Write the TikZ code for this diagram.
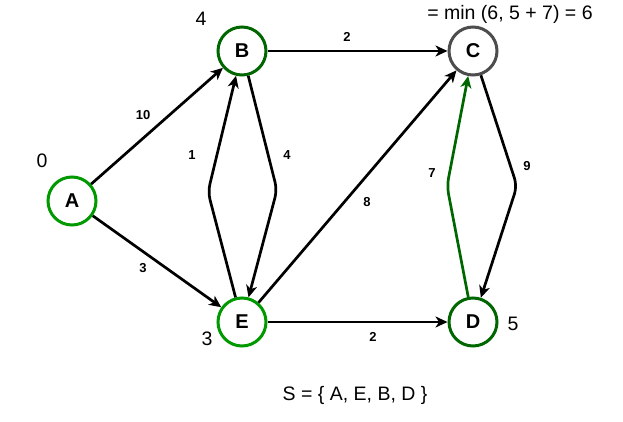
\documentclass[tikz,border=0pt]{standalone}
\usepackage{fontspec}
\setmainfont{Liberation Sans}
\usepackage{xcolor}
\usetikzlibrary{arrows.meta}
\definecolor{doneg}{RGB}{0,153,0}
\definecolor{darkg}{RGB}{0,102,0}
\definecolor{opengray}{RGB}{77,77,77}
\tikzset{
  vtx/.style={circle, draw, line width=3pt, fill=white, minimum size=48pt,
              inner sep=0pt, font=\fontsize{20}{24}\selectfont\bfseries},
  vtxdone/.style={vtx, draw=doneg},
  vtxdark/.style={vtx, draw=darkg},
  vtxgray/.style={vtx, draw=opengray},
  arr/.style={-{Stealth[length=12pt, width=11pt, inset=3.5pt]}, line width=2.7pt,
              rounded corners=8pt, color=black},
  arrgreen/.style={arr, color=darkg},
  wlbl/.style={font=\fontsize{13}{15}\selectfont\bfseries, inner sep=1pt},
  dist/.style={font=\fontsize{19.5}{23}\selectfont, inner sep=1pt},
}
\begin{document}
\begin{tikzpicture}[x=1pt, y=-1pt]
  \useasboundingbox (0,0) rectangle (623,422);
  % vertices
  \node[vtxdone] (A) at (72,201) {A};
  \node[vtxdark] (B) at (242,51) {B};
  \node[vtxgray] (C) at (473,51) {C};
  \node[vtxdone] (E) at (242,322) {E};
  \node[vtxdark] (D) at (473,322) {D};
  % bend points
  \coordinate (eb) at (208,192);
  \coordinate (be) at (277,190);
  \coordinate (dc) at (447,186);
  \coordinate (cd) at (517,186);
  % edges
  \draw[arr] (A) -- (B);
  \draw[arr] (A) -- (E);
  \draw[arr] (B) -- (C);
  \draw[arr] (E) -- (D);
  \draw[arr] (E) -- (C);
  \draw[arr] (E) -- (eb) -- (B);
  \draw[arr] (B) -- (be) -- (E);
  \draw[arr] (C) -- (cd) -- (D);
  \draw[arrgreen] (D) -- (dc) -- (C);
  % weights
  \node[wlbl] (w10) at (143,115) {10};
  \node[wlbl] (w3) at (143,268) {3};
  \node[wlbl] (w2a) at (347,37) {2};
  \node[wlbl] (w2b) at (373,337) {2};
  \node[wlbl] (w1) at (192,155) {1};
  \node[wlbl] (w4) at (287,155) {4};
  \node[wlbl] (w8) at (367,202) {8};
  \node[wlbl] (w7) at (432,173) {7};
  \node[wlbl] (w9) at (527,166) {9};
  % distances
  \node[dist] (dA) at (42,161) {0};
  \node[dist] (dB) at (201,19) {4};
  \node[dist] (dE) at (207,339) {3};
  \node[dist] (dD) at (513,324) {5};
  \node[dist] (dC) at (510,14) {= min (6, 5 + 7) = 6};
  \node[dist] (set) at (355,395) {S = \{ A, E, B, D \}};
\end{tikzpicture}
\end{document}
